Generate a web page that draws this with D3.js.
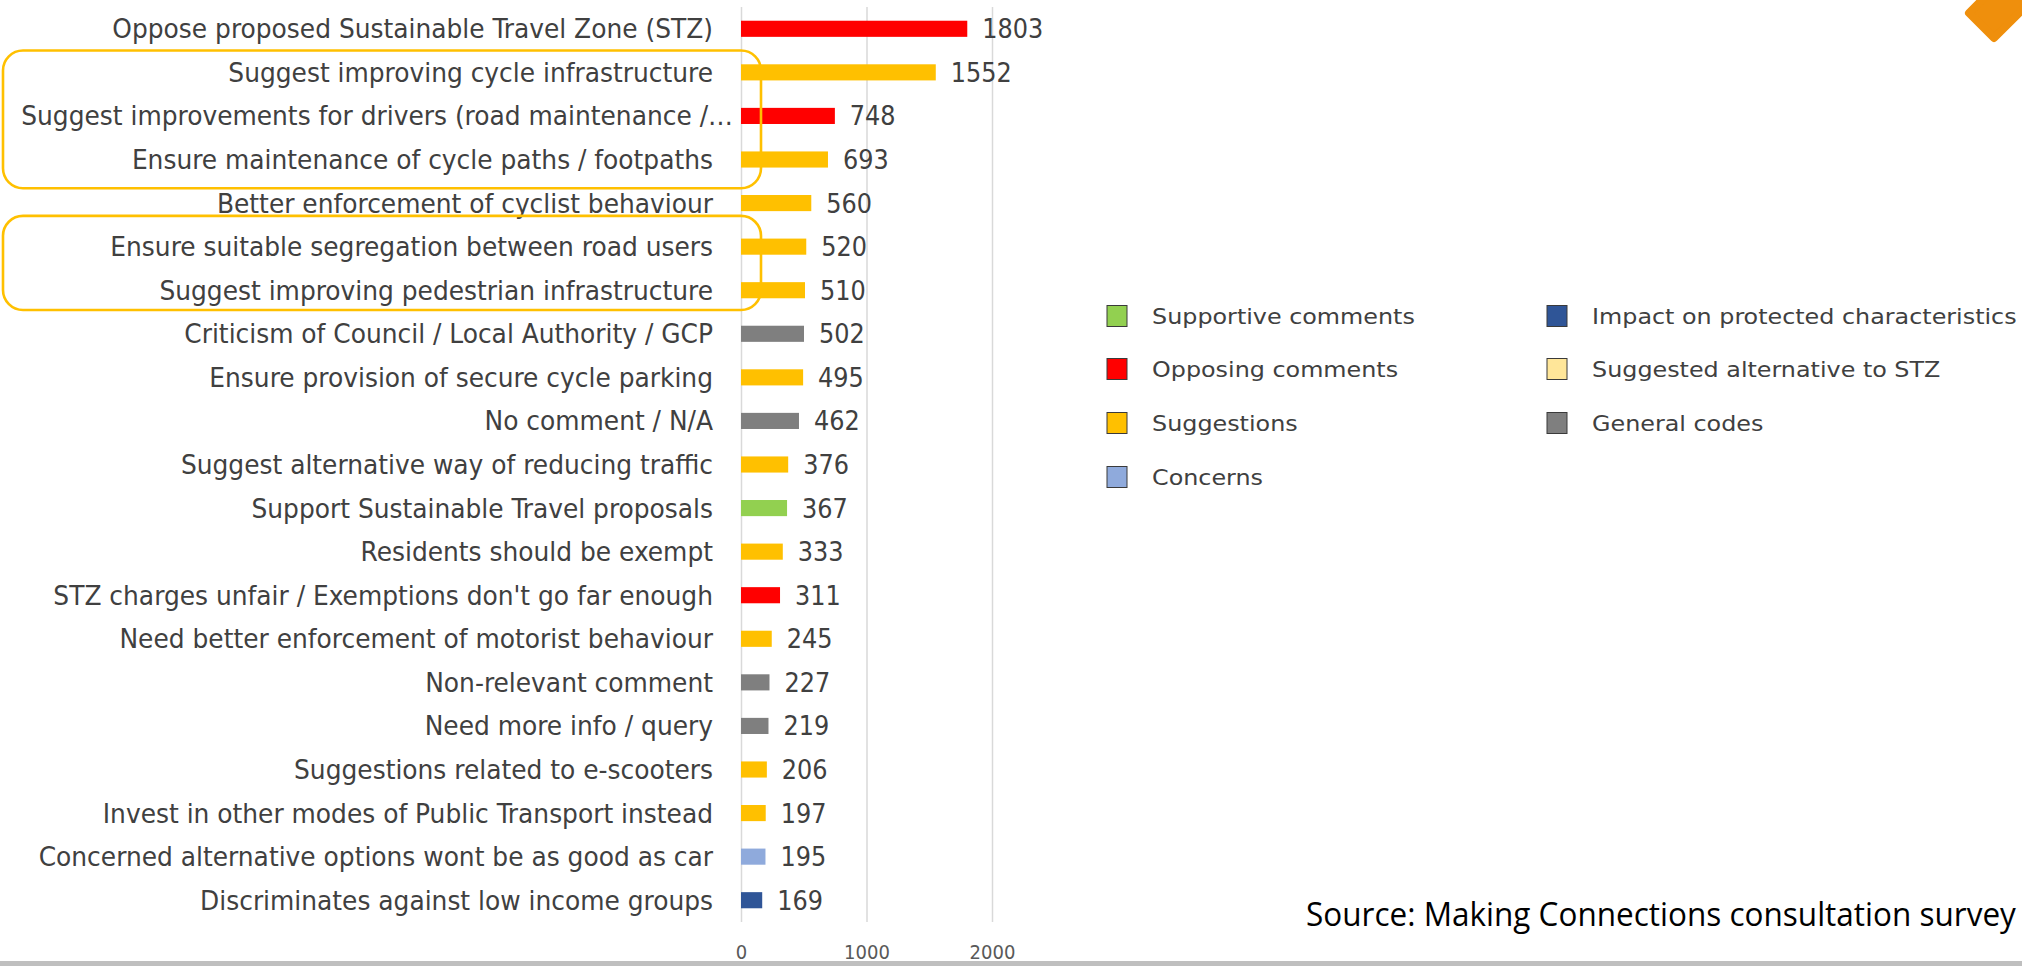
<!DOCTYPE html>
<html><head><meta charset="utf-8">
<script src="https://cdn.jsdelivr.net/npm/d3@7"></script>
<style>body{margin:0;background:#fff;overflow:hidden}</style>
</head><body><svg id="c" width="2022" height="966"></svg>
<script>
const categories = [
  "Oppose proposed Sustainable Travel Zone (STZ)",
  "Suggest improving cycle infrastructure",
  "Suggest improvements for drivers (road maintenance /\u2026",
  "Ensure maintenance of cycle paths / footpaths",
  "Better enforcement of cyclist behaviour",
  "Ensure suitable segregation between road users",
  "Suggest improving pedestrian infrastructure",
  "Criticism of Council / Local Authority / GCP",
  "Ensure provision of secure cycle parking",
  "No comment / N/A",
  "Suggest alternative way of reducing traffic",
  "Support Sustainable Travel proposals",
  "Residents should be exempt",
  "STZ charges unfair / Exemptions don't go far enough",
  "Need better enforcement of motorist behaviour",
  "Non-relevant comment",
  "Need more info / query",
  "Suggestions related to e-scooters",
  "Invest in other modes of Public Transport instead",
  "Concerned alternative options wont be as good as car",
  "Discriminates against low income groups"
];
const values = [1803,1552,748,693,560,520,510,502,495,462,376,367,333,311,245,227,219,206,197,195,169];
const groups = [
  "Opposing comments","Suggestions","Opposing comments","Suggestions","Suggestions",
  "Suggestions","Suggestions","General codes","Suggestions","General codes",
  "Suggestions","Supportive comments","Suggestions","Opposing comments","Suggestions",
  "General codes","General codes","Suggestions","Suggestions","Concerns",
  "Impact on protected characteristics"
];
const legendNames = ["Supportive comments","Opposing comments","Suggestions","Concerns",
  "Impact on protected characteristics","Suggested alternative to STZ","General codes"];
const legendColors = ["#92d050","#ff0000","#ffc000","#8faadc","#2f5597","#ffe699","#7f7f7f"];
const tickValues = [0,1000,2000];
const highlightRanges = [[1,3],[5,6]];
const sourceText = "Source: Making Connections consultation survey";

const svg = d3.select("#c");
const font = "'Liberation Sans Narrow','DejaVu Sans Condensed','Liberation Sans',sans-serif";

const x = d3.scaleLinear().domain([0,2000]).range([741,992]);
const y = d3.scaleBand().domain(categories).range([7,922]).paddingInner(0.63).paddingOuter(0.315);
const color = d3.scaleOrdinal().domain(legendNames).range(legendColors);
const step = y.step(), bw = y.bandwidth();
const yc = c => y(c) + bw/2;

// gridlines + tick labels via axis
const ax = svg.append("g").attr("transform","translate(0,922)")
  .call(d3.axisBottom(x).tickValues(tickValues).tickFormat(d3.format("d"))
    .tickSize(-915));
ax.select(".domain").remove();
ax.selectAll(".tick line").attr("stroke","#d9d9d9").attr("stroke-width",1.5);
ax.selectAll(".tick text").attr("y",37).attr("dy","0").attr("fill","#595959")
  .style("font-family",font).style("font-size","20px");

// bars
svg.append("g").selectAll("rect").data(categories).join("rect")
  .attr("x", x(0)).attr("y", c => y(c))
  .attr("width", (c,i) => x(values[i]) - x(0))
  .attr("height", bw)
  .attr("fill", (c,i) => color(groups[i]));

// category labels
const lg = svg.append("g").attr("transform","translate(713,0)");
const lgi = lg.append("g");
const labels = lgi.selectAll("text").data(categories).join("text")
  .attr("y", c => yc(c)).attr("dy","0.35em")
  .attr("text-anchor","end").attr("fill","#404040")
  .style("font-family",font).style("font-size","27px")
  .text(c => c);
const sxL = 601 / labels.node().getComputedTextLength();
lgi.attr("transform",`scale(${sxL},1)`);
labels.attr("x", c => c.endsWith("\u2026") ? 20/sxL : 0);

// value labels
const vg = svg.append("g").selectAll("g").data(categories).join("g");
const vt = vg.append("text").attr("dy","0.35em").attr("fill","#404040")
  .style("font-family",font).style("font-size","27px")
  .text((c,i) => values[i]);
const sxV = 61 / vt.node().getComputedTextLength();
vg.attr("transform",(c,i) => `translate(${x(values[i])+15},${yc(c)}) scale(${sxV},1)`);

// highlight boxes
const extTop = [0, 9], extBot = [7, -2];
highlightRanges.forEach((r,k) => {
  const top = y(categories[r[0]]) - (step-bw)/2 - extTop[k];
  const bot = y(categories[r[1]]) + bw + (step-bw)/2 + extBot[k];
  svg.append("rect").attr("x",3).attr("y",top).attr("width",758).attr("height",bot-top)
    .attr("rx",20).attr("ry",20).attr("fill","none")
    .attr("stroke","#ffc000").attr("stroke-width",2.6);
});

// legend
const legX = [1106,1546], legY = [316,369,423,477];
const leg = svg.append("g").selectAll("g").data(legendNames).join("g")
  .attr("transform",(d,i) => `translate(${legX[i<4?0:1]},${legY[i<4?i:i-4]})`);
leg.append("rect").attr("x",1).attr("y",-10.5).attr("width",20).attr("height",21)
  .attr("fill",d => color(d)).attr("stroke","#3a3a3a").attr("stroke-width",1);
const legTG = leg.append("g").attr("transform","translate(46,0)");
const legT = legTG.append("text").attr("dy","0.35em").attr("fill","#404040")
  .style("font-family",font).style("font-size","22px").text(d => d);
const sxG = 263 / legT.node().getComputedTextLength();
legTG.attr("transform",`translate(46,0) scale(${sxG},1)`);

// source
const src = svg.append("text").attr("y",926).attr("fill","#000")
  .style("font-family","'Open Sans',sans-serif").style("font-size","32px").text(sourceText);
const sxS = 710 / src.node().getComputedTextLength();
src.attr("transform",`translate(1306,0) scale(${sxS},1)`).attr("x",0);

// corner decoration
svg.append("path").attr("d","M1969,13 L1994,38 L2062,-30 L2037,-55 Z")
  .attr("fill","#ef8f0c").attr("stroke","#ef8f0c").attr("stroke-width",8).attr("stroke-linejoin","round");

// bottom band
svg.append("rect").attr("x",0).attr("y",961).attr("width",2022).attr("height",5).attr("fill","#bfbfbf");
</script></body></html>
